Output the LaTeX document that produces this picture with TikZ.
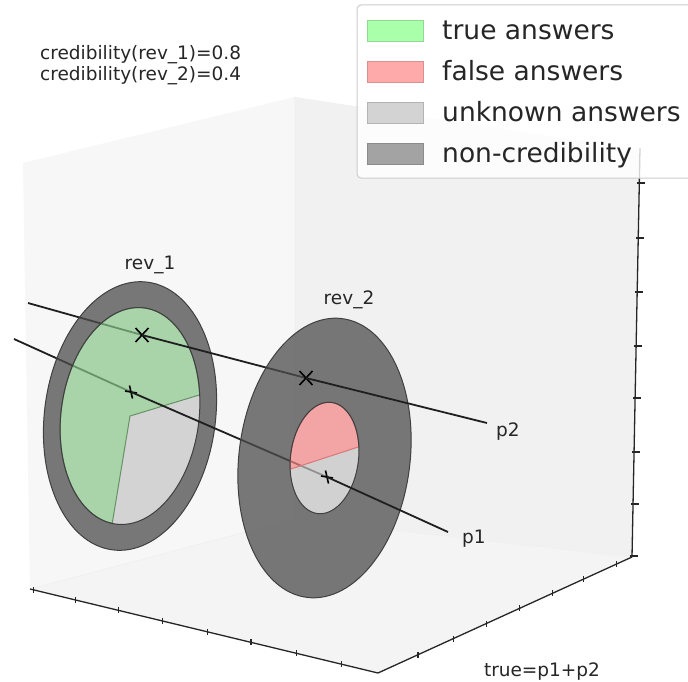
\documentclass[tikz,border=0pt]{standalone}
\usepackage{fontspec}
\setmainfont{DejaVu Sans}
\usepackage{tikz}
\usetikzlibrary{calc}
\usepackage{xcolor}

\definecolor{paneL}{HTML}{F7F7F7}
\definecolor{paneR}{HTML}{F1F1F1}
\definecolor{paneF}{HTML}{F4F4F4}
\definecolor{ringgray}{HTML}{4D4D4D}
\definecolor{truegreen}{RGB}{136,196,136}
\definecolor{falsered}{RGB}{244,132,132}
\definecolor{unkgray}{HTML}{C4C4C4}
\definecolor{lgreen}{HTML}{AAFFAA}
\definecolor{lred}{HTML}{FFAAAA}
\definecolor{lgray}{HTML}{D3D3D3}
\definecolor{ldark}{HTML}{A3A3A3}

\begin{document}
\begin{tikzpicture}[x=1pt,y=-1pt,
  ray/.style={line width=1.8pt,draw=black!88},
  xmk/.style={line width=1.6pt,draw=black},
  axisline/.style={line width=1.3pt,draw=black!85},
  paneedge/.style={line width=0.8pt,draw=black!6},
  ring/.style={fill=ringgray,fill opacity=0.75,draw=black!75,line width=1pt,even odd rule},
  truepart/.style={fill=truegreen,fill opacity=0.7,draw=truegreen!75!black,line width=1pt},
  falsepart/.style={fill=falsered,fill opacity=0.7,draw=falsered!90!black,line width=1pt},
  unkpart/.style={fill=unkgray,fill opacity=0.7},
  lbl/.style={font=\fontsize{18.5}{21}\selectfont,text=black!85,inner sep=0pt,anchor=base},
  legtxt/.style={font=\fontsize{26.5}{30}\selectfont,text=black!85,inner sep=0pt,anchor=base west},
  legpatch/.style={minimum width=56pt,minimum height=21pt,inner sep=0pt,draw=#1!85!black,fill=#1}
]
  \clip (0,0) rectangle (688,682);
  \fill[white] (0,0) rectangle (688,682);

  % 背景の面
  \fill[paneL] (23,163) -- (295,97) -- (295,519) -- (30,589) -- cycle;
  \fill[paneR] (295,97) -- (640,150) -- (632,557) -- (295,519) -- cycle;
  \fill[paneF] (30,589) -- (295,519) -- (632,557) -- (378,673) -- cycle;
  \draw[paneedge] (30,589) -- (295,519) -- (632,557) (295,519) -- (295,97);

  % 軸
  \coordinate (fl) at (30,589);
  \coordinate (ff) at (378,673);
  \coordinate (fr) at (632,557);
  \coordinate (vt) at (640,148);
  \draw[axisline] (fl) -- (ff) -- (fr);
  \draw[axisline] (vt) -- (fr);
  \foreach \f in {.01,.13,.255,.38,.51,.635,.765,.895}
    \draw[axisline] ($(fl)!\f!(ff)$) ++(0,-3) -- ++(0,6);
  \foreach \f in {.157,.296,.426,.557,.687,.809,.939}
    \draw[axisline] ($(ff)!\f!(fr)$) ++(0,-3) -- ++(0,6);
  \foreach \yy in {183,238,292,346,398,452,504,556}{
    \pgfmathsetmacro\xx{640-8*(\yy-148)/409}
    \draw[axisline] (\xx-2,\yy) -- (\xx+6,\yy);
  }

  % 直線 p1, p2
  \coordinate (p2s) at (28,303);
  \coordinate (p2a) at (142,335);
  \coordinate (p2b) at (306,378);
  \coordinate (p2e) at (487,423);
  \coordinate (p1s) at (14,339);
  \coordinate (p1a) at (131,392);
  \coordinate (p1b) at (327,477);
  \coordinate (p1e) at (448,532);
  \draw[ray] (p2s) -- (p2a);
  \draw[ray] (p1s) -- (p1a);

  % rev_1
  \coordinate (r1c) at (130,416);
  \begin{scope}[shift={(r1c)},y={(0pt,1pt)},rotate=-7.5]
    \path[unkpart] (0,0) -- ({69*cos(-93)},{109*sin(-93)})
      arc[start angle=-93,end angle=16,x radius=69,y radius=109] -- cycle;
    \path[truepart] (0,0) -- ({69*cos(16)},{109*sin(16)})
      arc[start angle=16,end angle=267,x radius=69,y radius=109] -- cycle;
    \path[ring] (0,0) ellipse[x radius=85.5,y radius=135]
      (0,0) ellipse[x radius=69,y radius=109];
  \end{scope}
  \draw[xmk] ($(p2a)+(-6.5,-7)$) -- ($(p2a)+(6.5,7)$) ($(p2a)+(-6.5,7)$) -- ($(p2a)+(6.5,-7)$);
  \draw[xmk] ($(p1a)+(-1.5,-6.5)$) -- ($(p1a)+(1.5,6.5)$) ($(p1a)+(-6,-1)$) -- ($(p1a)+(6,1)$);
  \draw[ray] (p2a) -- (p2b);
  \draw[ray] (p1a) -- (p1b);

  % rev_2
  \coordinate (r2c) at (324.5,458);
  \begin{scope}[shift={(r2c)},y={(0pt,1pt)},rotate=-7.2]
    \path[unkpart] (0,0) -- ({34*cos(196)},{56*sin(196)})
      arc[start angle=196,end angle=376,x radius=34,y radius=56] -- cycle;
    \path[falsepart] (0,0) -- ({34*cos(16)},{56*sin(16)})
      arc[start angle=16,end angle=196,x radius=34,y radius=56] -- cycle;
    \path[ring] (0,0) ellipse[x radius=85.5,y radius=140.5]
      (0,0) ellipse[x radius=34,y radius=56];
  \end{scope}
  \draw[xmk] ($(p2b)+(-6.5,-7)$) -- ($(p2b)+(6.5,7)$) ($(p2b)+(-6.5,7)$) -- ($(p2b)+(6.5,-7)$);
  \draw[xmk] ($(p1b)+(-1.5,-6.5)$) -- ($(p1b)+(1.5,6.5)$) ($(p1b)+(-6,-1)$) -- ($(p1b)+(6,1)$);
  \draw[ray] (p2b) -- (p2e);
  \draw[ray] (p1b) -- (p1e);

  % ラベル
  \node[lbl] (rev1lbl) at (150,269) {rev\_1};
  \node[lbl] (rev2lbl) at (349,304) {rev\_2};
  \node[lbl] (p2lbl) at (508,436) {p2};
  \node[lbl] (p1lbl) at (474,543) {p1};
  \node[lbl] (sumlbl) at (542,676) {true=p1+p2};
  \node[lbl,anchor=base west,align=left] (cred) at (40,81)
    {credibility(rev\_1)=0.8\\credibility(rev\_2)=0.4};

  % 凡例
  \draw[fill=white,fill opacity=0.8,draw=black!20,line width=1pt,rounded corners=4pt]
    (357,5) rectangle (700,178);
  \node[legpatch=lgreen] (legtrue) at (395,31) {};
  \node[legpatch=lred] (legfalse) at (395,72) {};
  \node[legpatch=lgray] (legunk) at (395,113) {};
  \node[legpatch=ldark] (legnon) at (395,154) {};
  \node[legtxt] (legtruetxt) at (442,40) {true answers};
  \node[legtxt] (legfalsetxt) at (442,81) {false answers};
  \node[legtxt] (legunktxt) at (442,122) {unknown answers};
  \node[legtxt] (legnontxt) at (442,162) {non-credibility};
\end{tikzpicture}
\end{document}
